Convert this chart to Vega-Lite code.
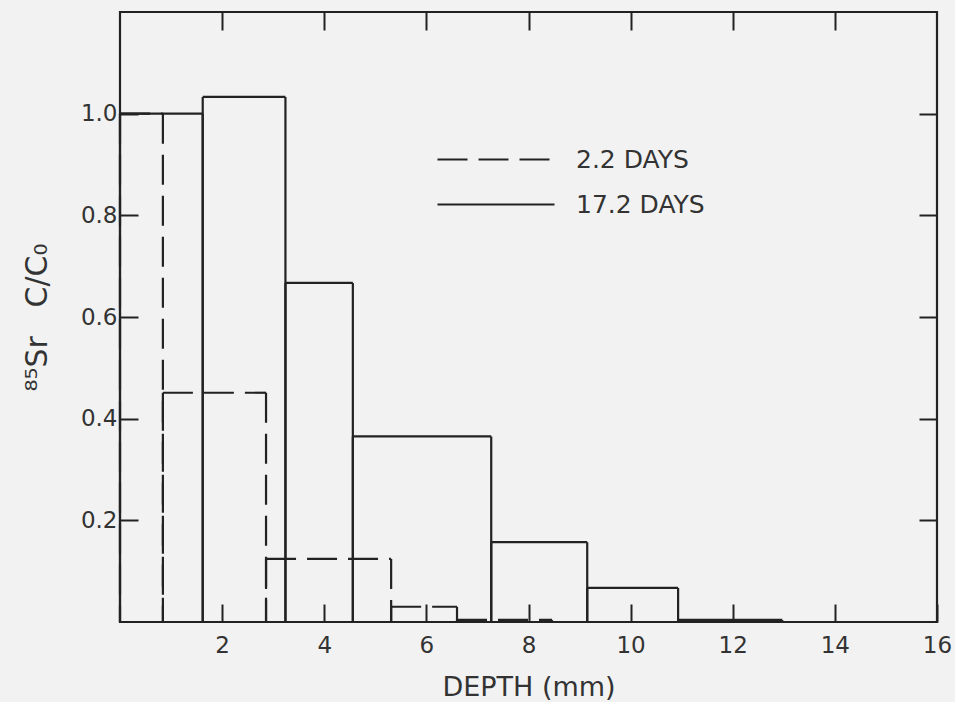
{
  "$schema": "https://vega.github.io/schema/vega-lite/v6.json",
  "width": 817,
  "height": 610,
  "autosize": "none",
  "padding": {"left": 120, "top": 12, "right": 18, "bottom": 80},
  "background": "#f2f2f2",
  "config": {
    "view": {"stroke": "#222222", "strokeWidth": 2.2},
    "axis": {
      "domain": false,
      "grid": false,
      "tickColor": "#222222",
      "tickWidth": 2,
      "tickSize": -18,
      "labelFont": "DejaVu Sans",
      "labelFontSize": 23,
      "labelColor": "#333333",
      "titleFont": "DejaVu Sans",
      "titleFontSize": 27,
      "titleFontWeight": "normal",
      "titleColor": "#333333"
    },
    "legend": {
      "labelFont": "DejaVu Sans",
      "labelFontSize": 25,
      "labelColor": "#333333"
    }
  },
  "data": {
    "values": [
      {"series": "17.2 DAYS", "x0": 0, "x1": 1.62, "value": 1.0},
      {"series": "17.2 DAYS", "x0": 1.62, "x1": 3.24, "value": 1.033},
      {"series": "17.2 DAYS", "x0": 3.24, "x1": 4.56, "value": 0.667},
      {"series": "17.2 DAYS", "x0": 4.56, "x1": 7.27, "value": 0.365},
      {"series": "17.2 DAYS", "x0": 7.27, "x1": 9.15, "value": 0.157},
      {"series": "17.2 DAYS", "x0": 9.15, "x1": 10.93, "value": 0.067},
      {"series": "17.2 DAYS", "x0": 10.93, "x1": 12.97, "value": 0.004},
      {"series": "2.2 DAYS", "x0": 0, "x1": 0.84, "value": 1.0},
      {"series": "2.2 DAYS", "x0": 0.84, "x1": 2.86, "value": 0.451},
      {"series": "2.2 DAYS", "x0": 2.86, "x1": 5.31, "value": 0.124},
      {"series": "2.2 DAYS", "x0": 5.31, "x1": 6.6, "value": 0.03},
      {"series": "2.2 DAYS", "x0": 6.6, "x1": 8.46, "value": 0.004}
    ]
  },
  "resolve": {"axis": {"x": "independent", "y": "independent"}},
  "layer": [
    {
      "mark": {"type": "rule", "stroke": "#222222", "strokeWidth": 2.2},
      "encoding": {
        "x": {
          "field": "x0", "type": "quantitative",
          "scale": {"domain": [0, 16], "nice": false, "zero": false},
          "axis": {"orient": "bottom", "values": [2, 4, 6, 8, 10, 12, 14, 16], "labelPadding": 30, "title": "DEPTH (mm)", "titlePadding": 17, "labelFlush": false}
        },
        "x2": {"field": "x1"},
        "y": {
          "field": "value", "type": "quantitative",
          "scale": {"domain": [0, 1.2], "nice": false},
          "axis": {"orient": "left", "values": [0.2, 0.4, 0.6, 0.8, 1.0], "format": ".1f", "labelPadding": 21, "title": "⁸⁵Sr\u00a0\u00a0\u00a0C/C₀", "titleFontSize": 30, "titlePadding": 28, "labelFlush": false}
        },
        "strokeDash": {
          "field": "series", "type": "nominal",
          "scale": {"domain": ["2.2 DAYS", "17.2 DAYS"], "range": [[30, 11], [1, 0]]},
          "legend": {
            "title": null,
            "orient": "none",
            "legendX": 316,
            "legendY": 125,
            "symbolType": "stroke",
            "symbolSize": 13689,
            "symbolStrokeColor": "#222222",
            "symbolStrokeWidth": 2.2,
            "labelOffset": 20,
            "clipHeight": 45,
            "rowPadding": 0
          }
        }
      }
    },
    {
      "mark": {"type": "rule", "stroke": "#222222", "strokeWidth": 2.2},
      "encoding": {
        "x": {"field": "x0", "type": "quantitative", "axis": null},
        "y": {"field": "value", "type": "quantitative", "axis": null},
        "y2": {"datum": 0},
        "strokeDash": {"field": "series", "type": "nominal"}
      }
    },
    {
      "mark": {"type": "rule", "stroke": "#222222", "strokeWidth": 2.2},
      "encoding": {
        "x": {"field": "x1", "type": "quantitative", "axis": null},
        "y": {"field": "value", "type": "quantitative", "axis": null},
        "y2": {"datum": 0},
        "strokeDash": {"field": "series", "type": "nominal"}
      }
    },
    {
      "mark": {"type": "point", "opacity": 0},
      "encoding": {
        "x": {
          "field": "x0", "type": "quantitative",
          "axis": {"orient": "top", "values": [2, 4, 6, 8, 10, 12, 14], "labels": false, "title": null}
        },
        "y": {
          "field": "value", "type": "quantitative",
          "axis": {"orient": "right", "values": [0.2, 0.4, 0.6, 0.8, 1.0], "labels": false, "title": null}
        }
      }
    }
  ]
}
